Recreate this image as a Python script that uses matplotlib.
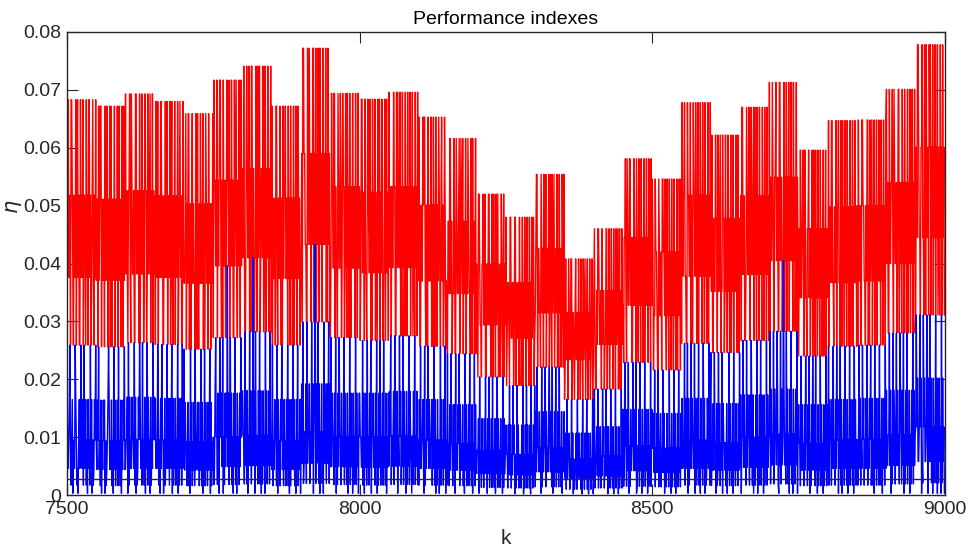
import numpy as np
import matplotlib
matplotlib.use("Agg")
import matplotlib.pyplot as plt

plt.rcParams['font.family'] = ['Liberation Sans', 'DejaVu Sans']

# ---- data -------------------------------------------------------------
k_start = 7500
seg_len = 50
threshold = 0.0027

# levels per 50-step segment (index 0 = highest)
levels = [
    [0.0683, 0.0518, 0.0376, 0.0259, 0.0165, 0.0095, 0.0046, 0.0017, 0.0003],
    [0.0672, 0.0511, 0.0371, 0.0256, 0.0164, 0.0094, 0.0044, 0.0016, 0.0003],
    [0.0693, 0.0526, 0.0382, 0.0263, 0.0169, 0.0096, 0.0046, 0.0017, 0.0003],
    [0.0680, 0.0517, 0.0376, 0.0260, 0.0167, 0.0095, 0.0046, 0.0017, 0.0003],
    [0.0659, 0.0503, 0.0366, 0.0252, 0.0160, 0.0092, 0.0043, 0.0016, 0.0003],
    [0.0717, 0.0544, 0.0396, 0.0272, 0.0176, 0.0100, 0.0049, 0.0018, 0.0003],
    [0.0741, 0.0564, 0.0410, 0.0282, 0.0180, 0.0103, 0.0051, 0.0019, 0.0003],
    [0.0672, 0.0513, 0.0374, 0.0259, 0.0165, 0.0094, 0.0044, 0.0016, 0.0003],
    [0.0772, 0.0590, 0.0433, 0.0299, 0.0192, 0.0109, 0.0055, 0.0020, 0.0003],
    [0.0694, 0.0533, 0.0392, 0.0272, 0.0176, 0.0101, 0.0049, 0.0018, 0.0003],
    [0.0684, 0.0523, 0.0384, 0.0267, 0.0176, 0.0100, 0.0048, 0.0017, 0.0003],
    [0.0696, 0.0533, 0.0393, 0.0275, 0.0179, 0.0102, 0.0050, 0.0018, 0.0003],
    [0.0653, 0.0501, 0.0370, 0.0257, 0.0165, 0.0095, 0.0046, 0.0017, 0.0003],
    [0.0616, 0.0473, 0.0348, 0.0244, 0.0156, 0.0089, 0.0043, 0.0016, 0.0003],
    [0.0520, 0.0399, 0.0294, 0.0204, 0.0132, 0.0077, 0.0037, 0.0013, 0.0003],
    [0.0480, 0.0367, 0.0271, 0.0189, 0.0121, 0.0070, 0.0035, 0.0012, 0.0002],
    [0.0554, 0.0426, 0.0315, 0.0221, 0.0144, 0.0082, 0.0040, 0.0014, 0.0003],
    [0.0408, 0.0315, 0.0234, 0.0165, 0.0107, 0.0062, 0.0029, 0.0010, 0.0002],
    [0.0460, 0.0353, 0.0260, 0.0183, 0.0118, 0.0067, 0.0033, 0.0012, 0.0002],
    [0.0581, 0.0445, 0.0328, 0.0229, 0.0148, 0.0085, 0.0042, 0.0015, 0.0003],
    [0.0546, 0.0420, 0.0310, 0.0216, 0.0141, 0.0081, 0.0039, 0.0014, 0.0003],
    [0.0678, 0.0518, 0.0378, 0.0262, 0.0167, 0.0095, 0.0046, 0.0017, 0.0003],
    [0.0622, 0.0478, 0.0352, 0.0246, 0.0158, 0.0090, 0.0043, 0.0016, 0.0003],
    [0.0670, 0.0517, 0.0381, 0.0267, 0.0173, 0.0100, 0.0048, 0.0017, 0.0003],
    [0.0713, 0.0549, 0.0405, 0.0283, 0.0183, 0.0105, 0.0052, 0.0019, 0.0003],
    [0.0596, 0.0460, 0.0341, 0.0240, 0.0156, 0.0089, 0.0043, 0.0016, 0.0003],
    [0.0647, 0.0498, 0.0367, 0.0257, 0.0165, 0.0095, 0.0046, 0.0017, 0.0003],
    [0.0648, 0.0500, 0.0370, 0.0259, 0.0167, 0.0096, 0.0046, 0.0017, 0.0003],
    [0.0701, 0.0540, 0.0400, 0.0280, 0.0181, 0.0104, 0.0051, 0.0019, 0.0003],
    [0.0778, 0.0601, 0.0445, 0.0311, 0.0202, 0.0118, 0.0058, 0.0021, 0.0003],
]

# level index visited at each step k in each segment (estimated)
red_idx = [
    "31022130012312203102133021203112302130021321023120",
    "21130210031221302201312030231120312203102132013021",
    "02123110230122133002121303120213201132022103120312",
    "13022031120021331202203112031023120311203210213302",
    "22103120032131021223013023120212031320121302213120",
    "30112203121002313022132011203120213302102312013021",
    "12023310122031300211322013021032112032013120231203",
    "03122130023112023130211022130213021320312023102132",
    "21300112233021021312003120312023021130212203130213",
    "32011200312230122013201132013021302312022130213021",
    "13200211302231012203130212031230210312013220310213",
    "02213122011330201220313021320313021203120321302130",
    "20133122010023113022120313021302312012310213201323",
    "31120021322013301221032012031220312012230130213203",
    "12300122311022033112002132013021302103213201320312",
    "03211230022113200312213021320312013202130213021032",
    "21003112230121302203112032013021032120313021320130",
    "32021130122003112310221302130213021032103120321032",
    "10233120012213021132200312031202130213021032031302",
    "23110230122002133120213012302130213203120213021302",
    "01322011233012213001120230213021302130213203120130",
    "30211022330112203123011201320312021302130213203120",
    "12033122011302210322011320213021320312031220130231",
    "21300211332012201310221030213021302213021302130213",
    "03122012311022133002113220312031203120213021320312",
    "31202210130022311021312032013021302130213203120312",
    "20311200223112031102230130213021302132031203120213",
    "13022133001122312003130210312031203120213021302130",
    "02133022110230122132003121302130213203120312031203",
    "31200122311022301302213010312031203120321302130213",
]
blue_idx = [
    "45654367548566345768546535647365475846573648576453",
    "56453657485645485765434656475836475647365748564536",
    "65548374656455637485764534657365748563746584756354",
    "54656347584635586475636457465384756475638475647365",
    "36455764758364756473655464756374856374657465384756",
    "57643557468355463857464526475364758463758465746354",
    "45573647485636475626483565746374857465836475647365",
    "63756455738465745365746574637485746536475846375648",
    "54637656473655475636485427465374856475836457465374",
    "63645574638574635574656374657485637465847563746584",
    "45566374856473657463855465746385746375647365748564",
    "64537565473656485635475637465847563745685746375647",
    "57463655468375645364655474637485746586374657463857",
    "36574635574648365645374656475836475647365748563746",
    "65548365746574635584637564736574856374657465837465",
    "45574636475635485763647565746385746374657483657463",
    "74635564658374655374656435647385746375647365748564",
    "56473655475636485765473654657483657465374856475638",
    "63755463756475635475636484657365748563746584756374",
    "47635574638574655364653875647365847563746584756374",
    "55463756463755475636485674657365847563748564736574",
    "64655374653847563645563845746375846573648576456374",
    "37564635584763647563845565748563746574836574657463",
    "64855364657364557463574865746385746374658475637465",
    "53746563745563478563746524657364758463758465746385",
    "45573646574635574638574635647365847563746584756374",
    "63745574636574635485637485647365748563746574836475",
    "57636475635475646375645376475836475647365748564736",
    "46655364857364575364657345746385746375648574637465",
    "53546653548673546653584636475847563748574658374658",
]

x_ticks = [7500, 8000, 8500, 9000]
y_ticks = [0, 0.01, 0.02, 0.03, 0.04, 0.05, 0.06, 0.07, 0.08]
y_tick_labels = ["0", "0.01", "0.02", "0.03", "0.04", "0.05", "0.06", "0.07", "0.08"]


def build(idx_strings):
    ks, vs = [], []
    for s, (seq, lev) in enumerate(zip(idx_strings, levels)):
        start = k_start + s * seg_len
        kk = np.linspace(start, start + seg_len, len(seq), endpoint=False)
        ks.extend(kk)
        vs.extend(lev[int(c)] for c in seq)
    ks.append(k_start + len(idx_strings) * seg_len)
    vs.append(vs[-1])
    return np.array(ks), np.array(vs)


k_red, eta_red = build(red_idx)
k_blue, eta_blue = build(blue_idx)

# ---- figure -----------------------------------------------------------
W, H = 969, 548
fig = plt.figure(figsize=(W / 100, H / 100), dpi=100)
ax = fig.add_axes([67 / W, 1 - 495 / H, (945 - 67) / W, (495 - 32) / H])

ax.plot(k_red, eta_red, color=(1, 0, 0), lw=1.0)
ax.plot(k_blue, eta_blue, color=(0, 0, 1), lw=1.0)
ax.axhline(threshold, color="#262626", lw=1.0)

ax.set_xlim(7500, 9000)
ax.set_ylim(0, 0.08)
ax.set_xticks(x_ticks)
ax.set_xticklabels([str(t) for t in x_ticks])
ax.set_yticks(y_ticks)
ax.set_yticklabels(y_tick_labels)

dark = "#262626"
for sp in ax.spines.values():
    sp.set_color(dark)
    sp.set_linewidth(1.0)
ax.tick_params(direction="in", top=True, right=True, length=8, width=0.8,
               colors=dark, labelsize=14, pad=4)

ax.set_title("Performance indexes", fontsize=14, color="black", pad=6)
ax.set_xlabel("k", fontsize=15, color=dark, labelpad=8)
fig.text(14 / W, 1 - 207 / H, r"$\eta$", fontsize=15, color=dark,
         rotation=90, ha="center", va="center")

fig.savefig("out.png", dpi=100)
